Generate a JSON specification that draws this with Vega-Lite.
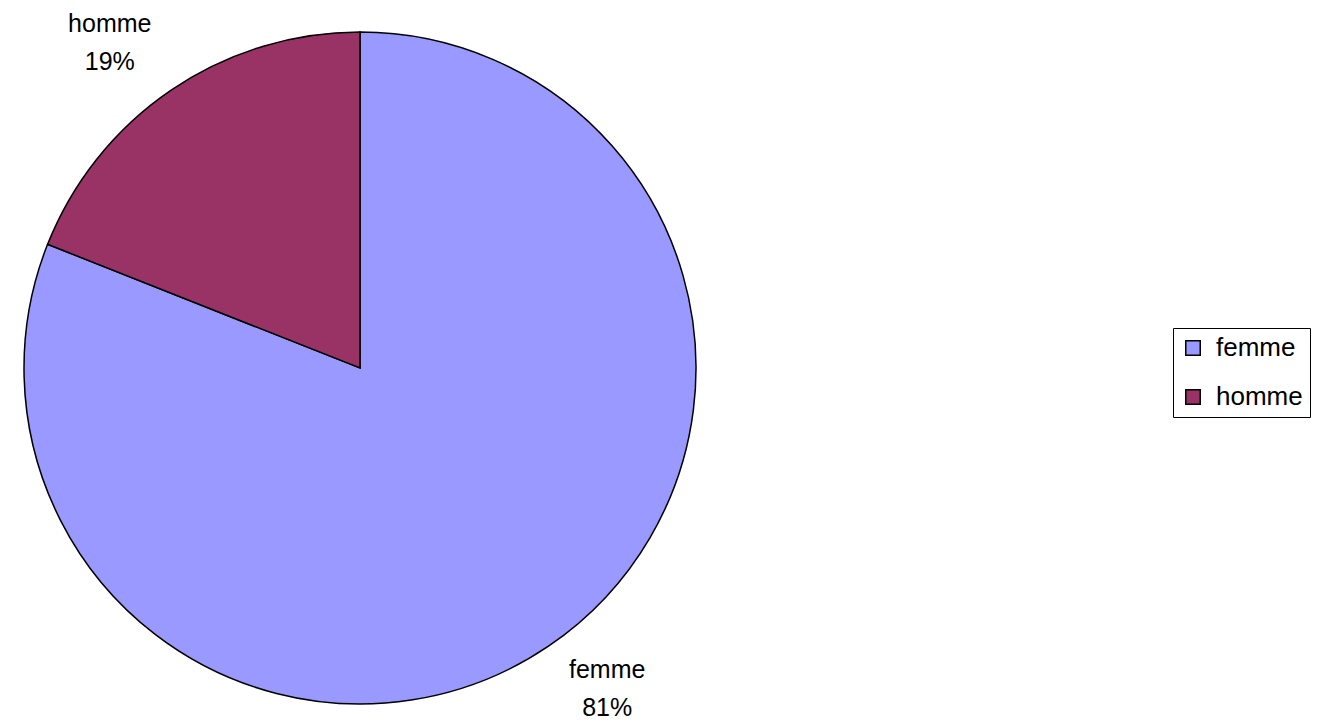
{
  "$schema": "https://vega.github.io/schema/vega-lite/v6.json",
  "autosize": "none",
  "width": 720,
  "height": 722,
  "padding": {"left": 0, "top": 7, "right": 597, "bottom": 0},
  "background": "white",
  "config": {
    "view": {"stroke": null},
    "font": "Liberation Sans"
  },
  "data": {
    "values": [
      {"sexe": "femme", "part": 81, "etiquette": "femme\n81%"},
      {"sexe": "homme", "part": 19, "etiquette": "homme\n19%"}
    ]
  },
  "encoding": {
    "theta": {"field": "part", "type": "quantitative", "stack": true},
    "order": {"field": "sexe", "type": "nominal", "sort": "ascending"}
  },
  "layer": [
    {
      "mark": {"type": "arc", "outerRadius": 336, "stroke": "black", "strokeWidth": 1.5},
      "encoding": {
        "color": {
          "field": "sexe",
          "type": "nominal",
          "scale": {"domain": ["femme", "homme"], "range": ["#9999FF", "#993366"]},
          "legend": {
            "title": null,
            "orient": "none",
            "legendX": 1173,
            "legendY": 321,
            "padding": 7,
            "strokeColor": "black",
            "fillColor": "white",
            "symbolType": "square",
            "symbolSize": 210,
            "symbolOffset": 0,
            "symbolStrokeColor": "black",
            "symbolStrokeWidth": 1.5,
            "symbolOpacity": 1,
            "labelFont": "Liberation Sans",
            "labelFontSize": 26,
            "labelColor": "black",
            "labelOffset": 10,
            "rowPadding": 23
          }
        }
      }
    },
    {
      "mark": {
        "type": "text",
        "radius": 390,
        "dx": 28,
        "dy": -21,
        "fontSize": 25,
        "font": "Liberation Sans",
        "color": "black",
        "lineBreak": "\n",
        "lineHeight": 38,
        "align": "center",
        "baseline": "middle"
      },
      "encoding": {
        "text": {
          "condition": {"test": "datum.sexe === 'femme'", "field": "etiquette"},
          "value": ""
        }
      }
    },
    {
      "mark": {
        "type": "text",
        "radius": 390,
        "dx": -31,
        "dy": -21,
        "fontSize": 25,
        "font": "Liberation Sans",
        "color": "black",
        "lineBreak": "\n",
        "lineHeight": 38,
        "align": "center",
        "baseline": "middle"
      },
      "encoding": {
        "text": {
          "condition": {"test": "datum.sexe === 'homme'", "field": "etiquette"},
          "value": ""
        }
      }
    }
  ]
}
